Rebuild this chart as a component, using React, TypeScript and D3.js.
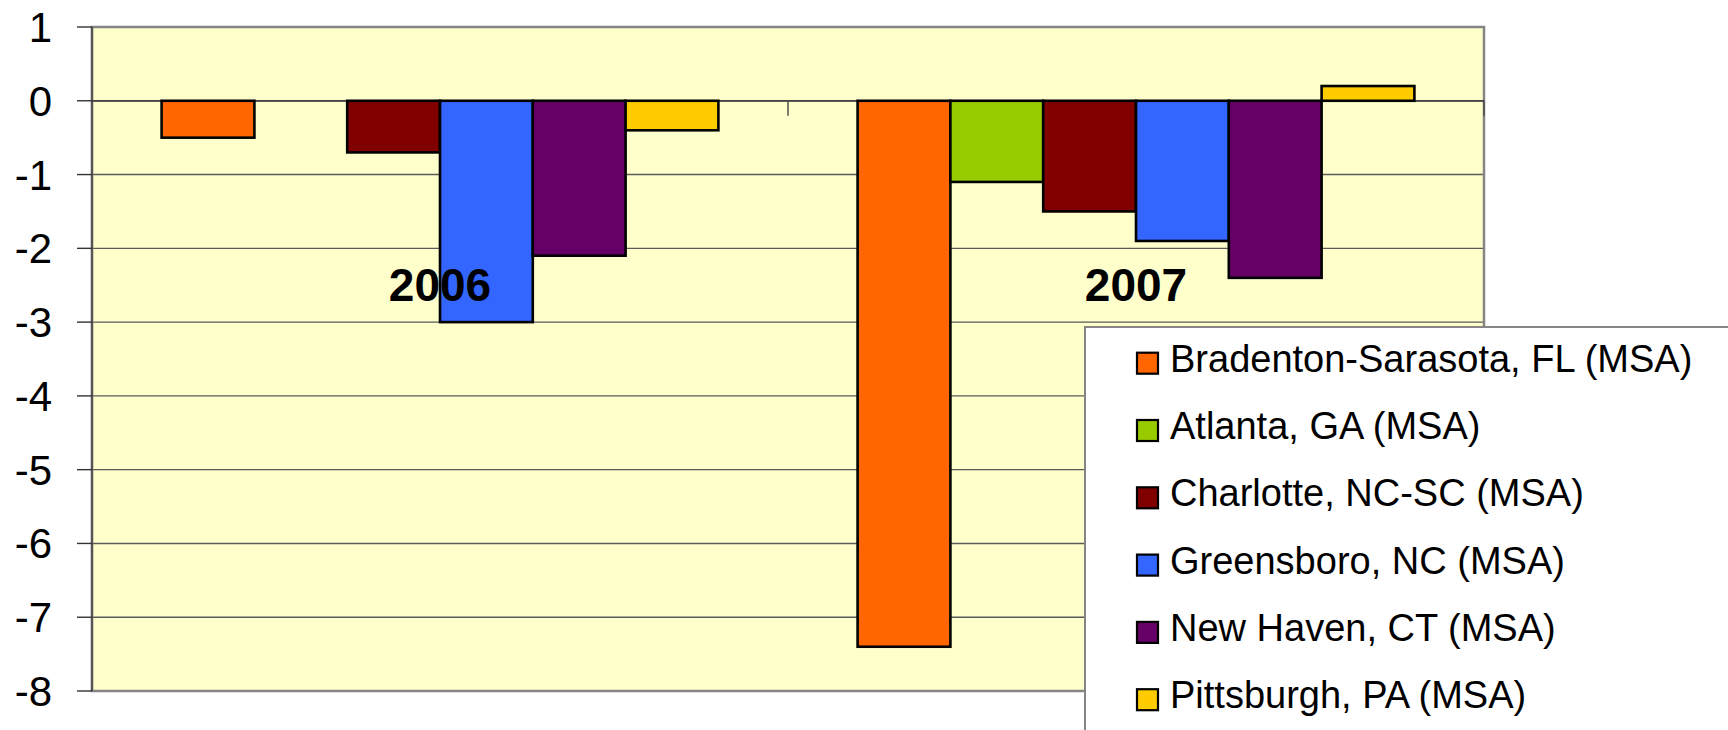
import React from "react";
import * as d3 from "d3";

const categories = ["2006", "2007"];
const seriesNames = [
  "Bradenton-Sarasota, FL (MSA)",
  "Atlanta, GA (MSA)",
  "Charlotte, NC-SC (MSA)",
  "Greensboro, NC (MSA)",
  "New Haven, CT (MSA)",
  "Pittsburgh, PA (MSA)",
];
const seriesColors = ["#FF6600", "#99CC00", "#800000", "#3366FF", "#660066", "#FFCC00"];
const values2006: (number | null)[] = [-0.5, null, -0.7, -3.0, -2.1, -0.4];
const values2007: (number | null)[] = [-7.4, -1.1, -1.5, -1.9, -2.4, 0.2];
const yTicks = [1, 0, -1, -2, -3, -4, -5, -6, -7, -8];

const W = 1728;
const H = 730;
const plot = { left: 92, right: 1484, top: 27, bottom: 691 };

export default function App() {
  const valuesByCat = [values2006, values2007];
  const y = d3.scaleLinear().domain([-8, 1]).range([plot.bottom, plot.top]);
  const x0 = d3.scaleBand<string>().domain(categories).range([plot.left, plot.right]).padding(0);
  const x1 = d3
    .scaleBand<string>()
    .domain(seriesNames)
    .range([0, x0.bandwidth()])
    .paddingInner(0)
    .paddingOuter(0.75);
  const y0 = y(0);

  const legend = { x: 1085, y: 327, swX: 1137, sw: 21, textX: 1170, firstTop: 352.7, firstBase: 371.7, step: 67.3 };

  return (
    <svg
      width={W}
      height={H}
      style={{ position: "absolute", left: 0, top: 0, overflow: "hidden", background: "#fff" }}
      fontFamily="'Liberation Sans', Arial, sans-serif"
    >
      <rect x={plot.left} y={plot.top} width={plot.right - plot.left} height={plot.bottom - plot.top} fill="#FFFFCC" />
      {yTicks.map((t) => (
        <line key={"g" + t} x1={plot.left} x2={plot.right} y1={y(t)} y2={y(t)} stroke="#5a5a5a" strokeWidth={1.4} />
      ))}
      {/* plot border */}
      <rect
        x={plot.left}
        y={plot.top}
        width={plot.right - plot.left}
        height={plot.bottom - plot.top}
        fill="none"
        stroke="#858585"
        strokeWidth={2.5}
      />
      <line x1={plot.left} x2={plot.left} y1={plot.top} y2={plot.bottom} stroke="#555" strokeWidth={2.2} />
      {/* y ticks and labels */}
      {yTicks.map((t) => (
        <g key={"t" + t}>
          <line x1={77} x2={plot.left} y1={y(t)} y2={y(t)} stroke="#333" strokeWidth={1.4} />
          <text x={52} y={y(t) + 15} textAnchor="end" fontSize={42} fill="#000">
            {t}
          </text>
        </g>
      ))}
      {/* category axis at zero */}
      <line x1={plot.left} x2={plot.right} y1={y0} y2={y0} stroke="#444" strokeWidth={1.8} />
      {categories.map((c) => (
        <line
          key={"ct" + c}
          x1={(x0(c) as number) + x0.bandwidth()}
          x2={(x0(c) as number) + x0.bandwidth()}
          y1={y0}
          y2={y0 + 15}
          stroke="#444"
          strokeWidth={1.4}
        />
      ))}
      {/* bars */}
      {categories.map((c, ci) =>
        seriesNames.map((s, si) => {
          const v = valuesByCat[ci][si];
          if (v === null) return null;
          const bx = (x0(c) as number) + (x1(s) as number);
          const top = Math.min(y(v), y0);
          const h = Math.abs(y(v) - y0);
          return (
            <rect
              key={c + s}
              x={bx}
              y={top}
              width={x1.bandwidth()}
              height={h}
              fill={seriesColors[si]}
              stroke="#000"
              strokeWidth={2.6}
            />
          );
        })
      )}
      {/* category labels */}
      {categories.map((c) => (
        <text
          key={"cl" + c}
          x={(x0(c) as number) + x0.bandwidth() / 2}
          y={301}
          textAnchor="middle"
          fontSize={46}
          fontWeight="bold"
          fill="#000"
        >
          {c}
        </text>
      ))}
      {/* legend */}
      <rect x={legend.x} y={legend.y} width={W - legend.x + 20} height={H - legend.y + 20} fill="#fff" stroke="#858585" strokeWidth={2} />
      {seriesNames.map((s, i) => (
        <g key={"l" + s}>
          <rect
            x={legend.swX}
            y={legend.firstTop + i * legend.step}
            width={legend.sw}
            height={legend.sw}
            fill={seriesColors[i]}
            stroke="#000"
            strokeWidth={2.2}
          />
          <text x={legend.textX} y={legend.firstBase + i * legend.step} fontSize={38} fill="#000">
            {s}
          </text>
        </g>
      ))}
    </svg>
  );
}
